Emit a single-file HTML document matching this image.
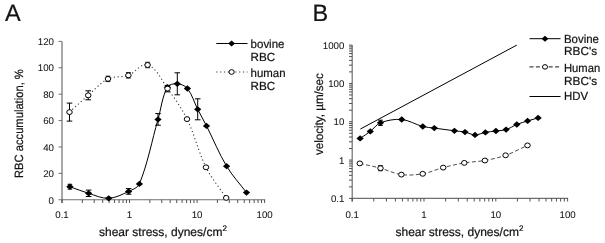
<!DOCTYPE html><html><head><meta charset="utf-8"><style>html,body{margin:0;padding:0;background:#fff;}svg{display:block;filter:blur(0.25px);text-rendering:geometricPrecision;}text{font-family:"Liberation Sans", sans-serif;stroke:#141414;stroke-width:0.22px;}text.tk{stroke-width:0.05px;}</style></head><body>
<svg width="605" height="243" viewBox="0 0 605 243">
<rect width="605" height="243" fill="#fff"/>
<text id="tA" x="5.00" y="21.00" font-size="23.5" fill="#141414">A</text>
<path d="M62,41.40V203 M61.5,199.75H265.10" stroke="#707070" stroke-width="1.2" fill="none"/>
<path d="M58.5,199.75H62M58.5,173.36H62M58.5,146.97H62M58.5,120.58H62M58.5,94.18H62M58.5,67.79H62M58.5,41.40H62" stroke="#707070" stroke-width="1"/>
<text id="ya0" x="54.00" y="204.15" font-size="9.7" text-anchor="end" class="tk" textLength="5.39" lengthAdjust="spacingAndGlyphs" fill="#141414">0</text>
<text id="ya20" x="54.00" y="176.96" font-size="9.7" text-anchor="end" class="tk" textLength="10.79" lengthAdjust="spacingAndGlyphs" fill="#141414">20</text>
<text id="ya40" x="54.00" y="150.57" font-size="9.7" text-anchor="end" class="tk" textLength="10.79" lengthAdjust="spacingAndGlyphs" fill="#141414">40</text>
<text id="ya60" x="54.00" y="124.17" font-size="9.7" text-anchor="end" class="tk" textLength="10.79" lengthAdjust="spacingAndGlyphs" fill="#141414">60</text>
<text id="ya80" x="54.00" y="97.78" font-size="9.7" text-anchor="end" class="tk" textLength="10.79" lengthAdjust="spacingAndGlyphs" fill="#141414">80</text>
<text id="ya100" x="54.00" y="71.39" font-size="9.7" text-anchor="end" class="tk" textLength="16.18" lengthAdjust="spacingAndGlyphs" fill="#141414">100</text>
<text id="ya120" x="54.00" y="45.00" font-size="9.7" text-anchor="end" class="tk" textLength="16.18" lengthAdjust="spacingAndGlyphs" fill="#141414">120</text>
<path d="M62.00,199.75V203M82.33,199.75V203M94.22,199.75V203M102.66,199.75V203M109.20,199.75V203M114.55,199.75V203M119.07,199.75V203M122.99,199.75V203M126.44,199.75V203M129.53,199.75V203M149.86,199.75V203M161.75,199.75V203M170.19,199.75V203M176.74,199.75V203M182.08,199.75V203M186.61,199.75V203M190.52,199.75V203M193.98,199.75V203M197.07,199.75V203M217.40,199.75V203M229.29,199.75V203M237.73,199.75V203M244.27,199.75V203M249.62,199.75V203M254.14,199.75V203M258.06,199.75V203M261.51,199.75V203M264.60,199.75V203" stroke="#404040" stroke-width="0.9"/>
<text id="xa0.1" x="62.00" y="217.60" font-size="9.7" text-anchor="middle" class="tk" textLength="13.48" lengthAdjust="spacingAndGlyphs" fill="#141414">0.1</text>
<text id="xa1" x="129.53" y="217.60" font-size="9.7" text-anchor="middle" class="tk" textLength="5.39" lengthAdjust="spacingAndGlyphs" fill="#141414">1</text>
<text id="xa10" x="197.07" y="217.60" font-size="9.7" text-anchor="middle" class="tk" textLength="10.79" lengthAdjust="spacingAndGlyphs" fill="#141414">10</text>
<text id="xa100" x="264.60" y="217.60" font-size="9.7" text-anchor="middle" class="tk" textLength="16.18" lengthAdjust="spacingAndGlyphs" fill="#141414">100</text>
<text id="xtA" x="99.00" y="235.60" font-size="12" fill="#141414">shear stress, dynes/cm<tspan font-size="8" dy="-5">2</tspan></text>
<text id="ytA" transform="translate(23.00,123.60) rotate(-90)" font-size="12" text-anchor="middle" textLength="108.78" lengthAdjust="spacingAndGlyphs" fill="#141414">RBC accumulation, %</text>
<path d="M69.50,112.10 C75.73,106.50 81.85,100.77 88.20,95.30 C94.69,89.70 100.33,82.72 108.00,78.90 C114.18,75.82 121.88,77.59 128.40,75.30 C135.25,72.89 140.72,62.66 147.60,65.00 C157.34,68.31 161.44,80.28 167.50,88.60 C174.60,98.35 181.70,108.26 187.00,119.10 C194.59,134.61 198.31,151.84 206.00,167.30 C211.44,178.24 219.47,187.70 226.20,197.90" stroke="#3a3a3a" stroke-width="1.1" fill="none" stroke-dasharray="1.2 2.6"/>
<path d="M69.90,186.70 C76.13,188.90 82.27,191.41 88.60,193.30 C95.21,195.28 101.80,198.63 108.70,198.30 C115.71,197.97 122.24,194.38 128.60,191.40 C132.57,189.54 137.74,187.96 139.40,183.90 C147.86,163.18 151.78,140.89 158.00,119.40 C161.11,108.66 162.07,97.03 167.40,87.20 C169.06,84.13 173.82,83.57 177.30,83.80 C181.01,84.04 185.08,85.60 187.40,88.50 C192.23,94.54 194.18,102.41 197.70,109.30 C200.55,114.88 203.66,120.32 206.50,125.90 C213.30,139.28 218.88,153.33 226.60,166.20 C232.27,175.65 239.87,183.80 246.50,192.60" stroke="#000" stroke-width="1" fill="none"/>
<path d="M69.90,184.30V189.10M67.60,184.30H72.20M67.60,189.10H72.20" stroke="#000" stroke-width="1" fill="none"/>
<path d="M88.60,190.10V196.50M85.80,190.10H91.40M85.80,196.50H91.40" stroke="#000" stroke-width="1" fill="none"/>

<path d="M128.60,188.60V194.20M125.80,188.60H131.40M125.80,194.20H131.40" stroke="#000" stroke-width="1" fill="none"/>

<path d="M158.00,113.60V125.20M155.20,113.60H160.80M155.20,125.20H160.80" stroke="#000" stroke-width="1" fill="none"/>

<path d="M177.30,72.80V94.80M174.50,72.80H180.10M174.50,94.80H180.10" stroke="#000" stroke-width="1" fill="none"/>

<path d="M197.70,98.80V119.80M194.90,98.80H200.50M194.90,119.80H200.50" stroke="#000" stroke-width="1" fill="none"/>



<path d="M69.50,103.10V121.10M66.70,103.10H72.30M66.70,121.10H72.30" stroke="#000" stroke-width="1" fill="none"/>
<path d="M88.20,90.80V99.80M85.40,90.80H91.00M85.40,99.80H91.00" stroke="#000" stroke-width="1" fill="none"/>
<path d="M108.00,76.20V81.60M105.70,76.20H110.30M105.70,81.60H110.30" stroke="#000" stroke-width="1" fill="none"/>
<path d="M128.40,72.60V78.00M126.10,72.60H130.70M126.10,78.00H130.70" stroke="#000" stroke-width="1" fill="none"/>
<path d="M147.60,62.30V67.70M145.30,62.30H149.90M145.30,67.70H149.90" stroke="#000" stroke-width="1" fill="none"/>
<path d="M167.50,85.40V91.80M164.70,85.40H170.30M164.70,91.80H170.30" stroke="#000" stroke-width="1" fill="none"/>



<path d="M69.90,183.54L73.54,186.70L69.90,189.86L66.26,186.70Z" fill="#000"/>
<path d="M88.60,190.14L92.24,193.30L88.60,196.46L84.96,193.30Z" fill="#000"/>
<path d="M108.70,195.14L112.34,198.30L108.70,201.46L105.06,198.30Z" fill="#000"/>
<path d="M128.60,188.24L132.24,191.40L128.60,194.56L124.96,191.40Z" fill="#000"/>
<path d="M139.40,180.74L143.04,183.90L139.40,187.06L135.76,183.90Z" fill="#000"/>
<path d="M158.00,116.24L161.64,119.40L158.00,122.56L154.36,119.40Z" fill="#000"/>
<path d="M167.40,84.04L171.04,87.20L167.40,90.36L163.76,87.20Z" fill="#000"/>
<path d="M177.30,80.64L180.94,83.80L177.30,86.96L173.66,83.80Z" fill="#000"/>
<path d="M187.40,85.34L191.04,88.50L187.40,91.66L183.76,88.50Z" fill="#000"/>
<path d="M197.70,106.14L201.34,109.30L197.70,112.46L194.06,109.30Z" fill="#000"/>
<path d="M206.50,122.74L210.14,125.90L206.50,129.06L202.86,125.90Z" fill="#000"/>
<path d="M226.60,163.04L230.24,166.20L226.60,169.36L222.96,166.20Z" fill="#000"/>
<path d="M246.50,189.44L250.14,192.60L246.50,195.76L242.86,192.60Z" fill="#000"/>
<ellipse cx="69.50" cy="112.10" rx="2.76" ry="2.44" fill="#fff" stroke="#000" stroke-width="1"/>
<ellipse cx="88.20" cy="95.30" rx="2.76" ry="2.44" fill="#fff" stroke="#000" stroke-width="1"/>
<ellipse cx="108.00" cy="78.90" rx="2.76" ry="2.44" fill="#fff" stroke="#000" stroke-width="1"/>
<ellipse cx="128.40" cy="75.30" rx="2.76" ry="2.44" fill="#fff" stroke="#000" stroke-width="1"/>
<ellipse cx="147.60" cy="65.00" rx="2.76" ry="2.44" fill="#fff" stroke="#000" stroke-width="1"/>
<ellipse cx="167.50" cy="88.60" rx="2.76" ry="2.44" fill="#fff" stroke="#000" stroke-width="1"/>
<ellipse cx="187.00" cy="119.10" rx="2.76" ry="2.44" fill="#fff" stroke="#000" stroke-width="1"/>
<ellipse cx="206.00" cy="167.30" rx="2.76" ry="2.44" fill="#fff" stroke="#000" stroke-width="1"/>
<ellipse cx="226.20" cy="197.90" rx="2.76" ry="2.44" fill="#fff" stroke="#000" stroke-width="1"/>
<path d="M216.3,43.5H247.5" stroke="#000" stroke-width="1"/>
<path d="M231.60,40.52L235.02,43.50L231.60,46.48L228.18,43.50Z" fill="#000"/>
<path d="M216.3,72H247.5" stroke="#3a3a3a" stroke-width="1.1" stroke-dasharray="1.2 2.6"/>
<ellipse cx="231.60" cy="72.00" rx="2.65" ry="2.35" fill="#fff" stroke="#000" stroke-width="1"/>
<text id="lgA0" x="250.60" y="47.50" font-size="11.8" textLength="33.87" lengthAdjust="spacingAndGlyphs" fill="#141414">bovine</text>
<text id="lgA1" x="250.60" y="60.90" font-size="11.8" textLength="24.66" lengthAdjust="spacingAndGlyphs" fill="#141414">RBC</text>
<text id="lgA2" x="250.60" y="77.00" font-size="11.8" textLength="34.96" lengthAdjust="spacingAndGlyphs" fill="#141414">human</text>
<text id="lgA3" x="250.60" y="89.50" font-size="11.8" textLength="24.66" lengthAdjust="spacingAndGlyphs" fill="#141414">RBC</text>
<text id="tB" x="312.50" y="21.00" font-size="23.5" fill="#141414">B</text>
<path d="M352.2,45.10V201.5 M351.7,198.40H568.10" stroke="#707070" stroke-width="1.2" fill="none"/>
<path d="M349,198.40H352.2M349,186.86H352.2M349,180.11H352.2M349,175.33H352.2M349,171.61H352.2M349,168.58H352.2M349,166.01H352.2M349,163.79H352.2M349,161.83H352.2M349,160.07H352.2M349,148.54H352.2M349,141.79H352.2M349,137.00H352.2M349,133.29H352.2M349,130.25H352.2M349,127.69H352.2M349,125.46H352.2M349,123.50H352.2M349,121.75H352.2M349,110.21H352.2M349,103.46H352.2M349,98.68H352.2M349,94.96H352.2M349,91.93H352.2M349,89.36H352.2M349,87.14H352.2M349,85.18H352.2M349,83.42H352.2M349,71.89H352.2M349,65.14H352.2M349,60.35H352.2M349,56.64H352.2M349,53.60H352.2M349,51.04H352.2M349,48.81H352.2M349,46.85H352.2M349,45.10H352.2" stroke="#404040" stroke-width="0.9"/>
<text id="yb0.1" x="344.40" y="202.00" font-size="9.7" text-anchor="end" class="tk" textLength="13.48" lengthAdjust="spacingAndGlyphs" fill="#141414">0.1</text>
<text id="yb1" x="344.40" y="163.67" font-size="9.7" text-anchor="end" class="tk" textLength="5.39" lengthAdjust="spacingAndGlyphs" fill="#141414">1</text>
<text id="yb10" x="344.40" y="125.35" font-size="9.7" text-anchor="end" class="tk" textLength="10.79" lengthAdjust="spacingAndGlyphs" fill="#141414">10</text>
<text id="yb100" x="344.40" y="87.02" font-size="9.7" text-anchor="end" class="tk" textLength="16.18" lengthAdjust="spacingAndGlyphs" fill="#141414">100</text>
<text id="yb1000" x="344.40" y="48.70" font-size="9.7" text-anchor="end" class="tk" textLength="21.58" lengthAdjust="spacingAndGlyphs" fill="#141414">1000</text>
<path d="M352.20,198.40V201.5M373.81,198.40V201.5M386.46,198.40V201.5M395.43,198.40V201.5M402.39,198.40V201.5M408.07,198.40V201.5M412.88,198.40V201.5M417.04,198.40V201.5M420.71,198.40V201.5M424.00,198.40V201.5M445.61,198.40V201.5M458.26,198.40V201.5M467.23,198.40V201.5M474.19,198.40V201.5M479.87,198.40V201.5M484.68,198.40V201.5M488.84,198.40V201.5M492.51,198.40V201.5M495.80,198.40V201.5M517.41,198.40V201.5M530.06,198.40V201.5M539.03,198.40V201.5M545.99,198.40V201.5M551.67,198.40V201.5M556.48,198.40V201.5M560.64,198.40V201.5M564.31,198.40V201.5M567.60,198.40V201.5" stroke="#404040" stroke-width="0.9"/>
<text id="xb0.1" x="352.20" y="217.60" font-size="9.7" text-anchor="middle" class="tk" textLength="13.48" lengthAdjust="spacingAndGlyphs" fill="#141414">0.1</text>
<text id="xb1" x="424.00" y="217.60" font-size="9.7" text-anchor="middle" class="tk" textLength="5.39" lengthAdjust="spacingAndGlyphs" fill="#141414">1</text>
<text id="xb10" x="495.80" y="217.60" font-size="9.7" text-anchor="middle" class="tk" textLength="10.79" lengthAdjust="spacingAndGlyphs" fill="#141414">10</text>
<text id="xb100" x="567.60" y="217.60" font-size="9.7" text-anchor="middle" class="tk" textLength="16.18" lengthAdjust="spacingAndGlyphs" fill="#141414">100</text>
<text id="xtB" x="395.50" y="235.60" font-size="12" fill="#141414">shear stress, dynes/cm<tspan font-size="8" dy="-5">2</tspan></text>
<text id="ytB" transform="translate(322.80,114.10) rotate(-90)" font-size="12" text-anchor="middle" textLength="82.00" lengthAdjust="spacingAndGlyphs" fill="#141414">velocity, µm/sec</text>
<path d="M360.4,129L516.8,45.1" stroke="#000" stroke-width="1"/>
<path d="M359.80,163.40 C366.70,165.00 373.66,166.36 380.50,168.20 C387.54,170.09 394.18,173.64 401.40,174.60 C408.44,175.53 415.69,174.97 422.70,173.80 C429.74,172.62 436.29,169.41 443.20,167.60 C450.17,165.77 457.20,164.11 464.30,162.90 C471.12,161.74 478.10,161.75 484.90,160.50 C491.90,159.21 498.89,157.68 505.60,155.30 C513.15,152.62 520.20,148.70 527.50,145.40" stroke="#444444" stroke-width="0.95" fill="none" stroke-dasharray="4 2.4"/>
<path d="M360.10,138.40 C363.50,136.07 367.02,133.90 370.30,131.40 C373.83,128.70 376.34,124.38 380.50,122.80 C387.19,120.27 394.58,118.88 401.70,119.50 C409.08,120.15 415.63,124.61 422.80,126.50 C426.54,127.49 430.47,127.58 434.30,128.10 C441.00,129.01 447.70,129.93 454.40,130.80 C457.93,131.26 461.51,131.41 465.00,132.10 C468.39,132.78 471.54,134.85 475.00,134.90 C478.57,134.95 481.90,133.05 485.40,132.40 C488.87,131.75 492.40,131.47 495.90,131.00 C499.30,130.54 502.82,130.62 506.10,129.60 C509.87,128.43 513.14,125.98 516.80,124.50 C520.32,123.08 523.98,122.02 527.60,120.90 C531.08,119.82 534.60,118.90 538.10,117.90" stroke="#000" stroke-width="1" fill="none"/>


<path d="M380.50,120.20V125.40M378.20,120.20H382.80M378.20,125.40H382.80" stroke="#000" stroke-width="1" fill="none"/>













<path d="M380.50,165.70V170.70M378.20,165.70H382.80M378.20,170.70H382.80" stroke="#000" stroke-width="1" fill="none"/>







<path d="M360.10,135.24L363.74,138.40L360.10,141.56L356.46,138.40Z" fill="#000"/>
<path d="M370.30,128.24L373.94,131.40L370.30,134.56L366.66,131.40Z" fill="#000"/>
<path d="M380.50,119.64L384.14,122.80L380.50,125.96L376.86,122.80Z" fill="#000"/>
<path d="M401.70,116.34L405.34,119.50L401.70,122.66L398.06,119.50Z" fill="#000"/>
<path d="M422.80,123.34L426.44,126.50L422.80,129.66L419.16,126.50Z" fill="#000"/>
<path d="M434.30,124.94L437.94,128.10L434.30,131.26L430.66,128.10Z" fill="#000"/>
<path d="M454.40,127.64L458.04,130.80L454.40,133.96L450.76,130.80Z" fill="#000"/>
<path d="M465.00,128.94L468.64,132.10L465.00,135.26L461.36,132.10Z" fill="#000"/>
<path d="M475.00,131.74L478.64,134.90L475.00,138.06L471.36,134.90Z" fill="#000"/>
<path d="M485.40,129.24L489.04,132.40L485.40,135.56L481.76,132.40Z" fill="#000"/>
<path d="M495.90,127.84L499.54,131.00L495.90,134.16L492.26,131.00Z" fill="#000"/>
<path d="M506.10,126.44L509.74,129.60L506.10,132.76L502.46,129.60Z" fill="#000"/>
<path d="M516.80,121.34L520.44,124.50L516.80,127.66L513.16,124.50Z" fill="#000"/>
<path d="M527.60,117.74L531.24,120.90L527.60,124.06L523.96,120.90Z" fill="#000"/>
<path d="M538.10,114.74L541.74,117.90L538.10,121.06L534.46,117.90Z" fill="#000"/>
<ellipse cx="359.80" cy="163.40" rx="2.76" ry="2.44" fill="#fff" stroke="#000" stroke-width="1"/>
<ellipse cx="380.50" cy="168.20" rx="2.76" ry="2.44" fill="#fff" stroke="#000" stroke-width="1"/>
<ellipse cx="401.40" cy="174.60" rx="2.76" ry="2.44" fill="#fff" stroke="#000" stroke-width="1"/>
<ellipse cx="422.70" cy="173.80" rx="2.76" ry="2.44" fill="#fff" stroke="#000" stroke-width="1"/>
<ellipse cx="443.20" cy="167.60" rx="2.76" ry="2.44" fill="#fff" stroke="#000" stroke-width="1"/>
<ellipse cx="464.30" cy="162.90" rx="2.76" ry="2.44" fill="#fff" stroke="#000" stroke-width="1"/>
<ellipse cx="484.90" cy="160.50" rx="2.76" ry="2.44" fill="#fff" stroke="#000" stroke-width="1"/>
<ellipse cx="505.60" cy="155.30" rx="2.76" ry="2.44" fill="#fff" stroke="#000" stroke-width="1"/>
<ellipse cx="527.50" cy="145.40" rx="2.76" ry="2.44" fill="#fff" stroke="#000" stroke-width="1"/>
<path d="M529.5,38.7H560.5" stroke="#000" stroke-width="1"/>
<path d="M545.00,35.72L548.42,38.70L545.00,41.68L541.58,38.70Z" fill="#000"/>
<path d="M529.5,66.9H560.5" stroke="#444444" stroke-width="1.1" stroke-dasharray="4 2.4"/>
<ellipse cx="545.00" cy="66.90" rx="2.54" ry="2.26" fill="#fff" stroke="#000" stroke-width="1"/>
<path d="M529.5,96.5H560.5" stroke="#000" stroke-width="1"/>
<text id="lgB0" x="564.00" y="42.60" font-size="11.8" textLength="34.96" lengthAdjust="spacingAndGlyphs" fill="#141414">Bovine</text>
<text id="lgB1" x="564.00" y="55.00" font-size="11.8" textLength="33.07" lengthAdjust="spacingAndGlyphs" fill="#141414">RBC's</text>
<text id="lgB2" x="564.00" y="71.60" font-size="11.8" textLength="36.17" lengthAdjust="spacingAndGlyphs" fill="#141414">Human</text>
<text id="lgB3" x="564.00" y="84.50" font-size="11.8" textLength="33.07" lengthAdjust="spacingAndGlyphs" fill="#141414">RBC's</text>
<text id="lgB4" x="564.00" y="100.10" font-size="11.8" textLength="24.09" lengthAdjust="spacingAndGlyphs" fill="#141414">HDV</text>
</svg></body></html>
